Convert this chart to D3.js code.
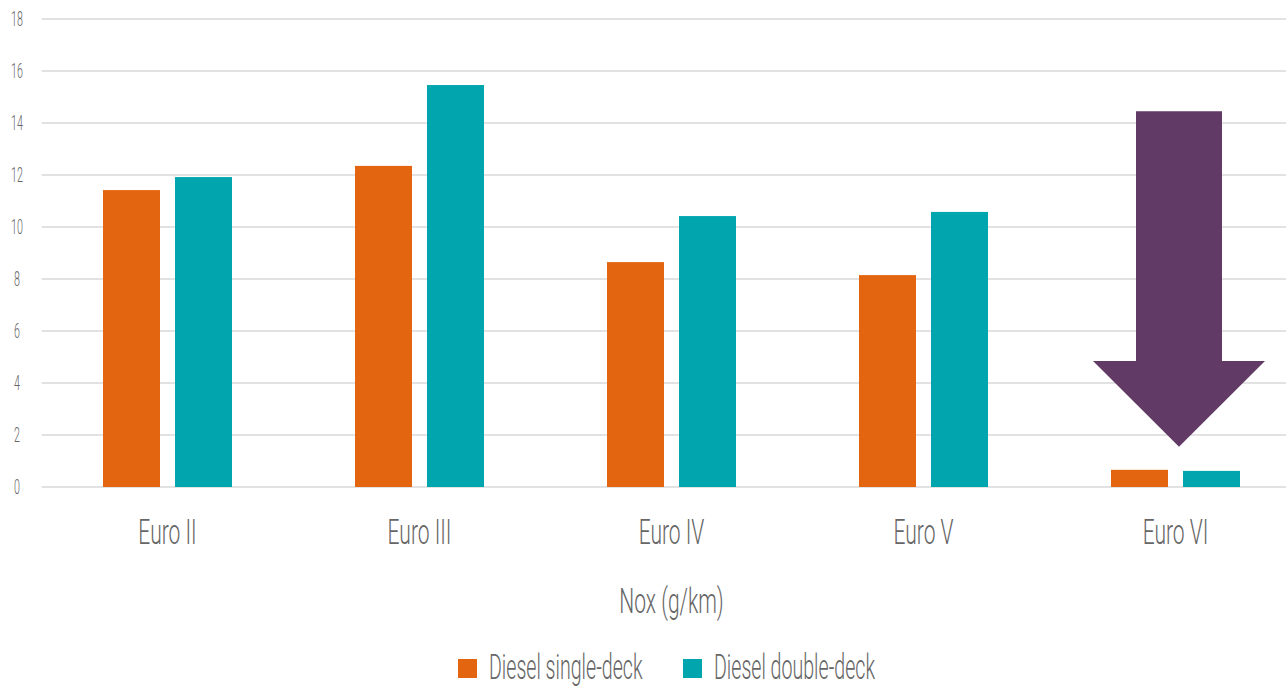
<!DOCTYPE html>
<html><head><meta charset="utf-8">
<script src="https://cdn.jsdelivr.net/npm/d3@7"></script>
<style>
html,body{margin:0;padding:0;background:#fff;overflow:hidden}
text{font-family:Roboto,"Liberation Sans",sans-serif;font-weight:300;fill:#666666}
</style></head>
<body>
<svg id="chart" width="1286" height="688"></svg>
<script>
const categories = ["Euro II","Euro III","Euro IV","Euro V","Euro VI"];
const seriesNames = ["Diesel single-deck","Diesel double-deck"];
const singleDeck = [11.42, 12.35, 8.65, 8.15, 0.66];
const doubleDeck = [11.92, 15.46, 10.42, 10.58, 0.62];
const yTicks = [0,2,4,6,8,10,12,14,16,18];
const axisTitle = "Nox (g/km)";
const arrowFrom = 14.45, arrowTo = 1.55, arrowHeadBase = 4.85;
const colors = ["#E46510","#00A5AD"];
const arrowColor = "#623A66";

const svg = d3.select("#chart");
const plotLeft = 41.5, plotRight = 1301.5, plotTop = 19, plotBottom = 487;
const SX = 0.6; // condensed font

const y = d3.scaleLinear().domain([0,18]).range([plotBottom, plotTop]);
const x0 = d3.scaleBand().domain(categories).range([plotLeft, plotRight]);
const groupW = 129;
const x1 = d3.scaleBand().domain(seriesNames).range([0, groupW]).paddingInner(0.2083);

function ctext(g, str, x, yy, size, anchor, sx){
  return g.append("text")
    .attr("transform", `translate(${x},${yy}) scale(${sx || SX},1)`)
    .attr("text-anchor", anchor || "middle")
    .style("font-size", size + "px")
    .text(str);
}

// gridlines
const grid = svg.append("g");
grid.selectAll("line").data(yTicks).join("line")
  .attr("x1", plotLeft).attr("x2", plotRight)
  .attr("y1", d => y(d)).attr("y2", d => y(d))
  .attr("stroke", "#d9d9d9").attr("stroke-width", 1.5);

// y tick labels
const yl = svg.append("g");
yTicks.forEach(t => ctext(yl, t, 17, y(t) + 7, 19.5, "middle", 0.55));

// bars
const data = categories.map((c,i) => ({cat:c, vals:[singleDeck[i], doubleDeck[i]]}));
const groups = svg.append("g").selectAll("g").data(data).join("g")
  .attr("transform", d => `translate(${x0(d.cat) + (x0.bandwidth()-groupW)/2},0)`);
groups.selectAll("rect").data(d => d.vals.map((v,j) => ({s:seriesNames[j], v, j})))
  .join("rect")
  .attr("x", d => x1(d.s))
  .attr("width", x1.bandwidth())
  .attr("y", d => y(d.v))
  .attr("height", d => y(0) - y(d.v))
  .attr("fill", d => colors[d.j]);

// category labels
const xl = svg.append("g");
categories.forEach(c => ctext(xl, c, x0(c) + x0.bandwidth()/2, 544, 35));

// axis title
ctext(svg.append("g"), axisTitle, (plotLeft+plotRight)/2, 613, 35);

// arrow annotation on Euro VI
const cx = x0("Euro VI") + x0.bandwidth()/2 + 3.5;
const sw = 43, hw = 86;
const pts = [
  [cx - sw, y(arrowFrom)], [cx + sw, y(arrowFrom)], [cx + sw, y(arrowHeadBase)],
  [cx + hw, y(arrowHeadBase)], [cx, y(arrowTo)], [cx - hw, y(arrowHeadBase)],
  [cx - sw, y(arrowHeadBase)]
];
svg.append("path").attr("d", d3.line()(pts) + "Z").attr("fill", arrowColor);

// legend
const lg = svg.append("g");
const legendItems = [{x:458, tx:489}, {x:683, tx:714}];
seriesNames.forEach((s,i) => {
  lg.append("rect").attr("x", legendItems[i].x).attr("y", 659).attr("width", 19).attr("height", 19).attr("fill", colors[i]);
  ctext(lg, s, legendItems[i].tx, 679, 35, "start", 0.56);
});
</script>
</body></html>
